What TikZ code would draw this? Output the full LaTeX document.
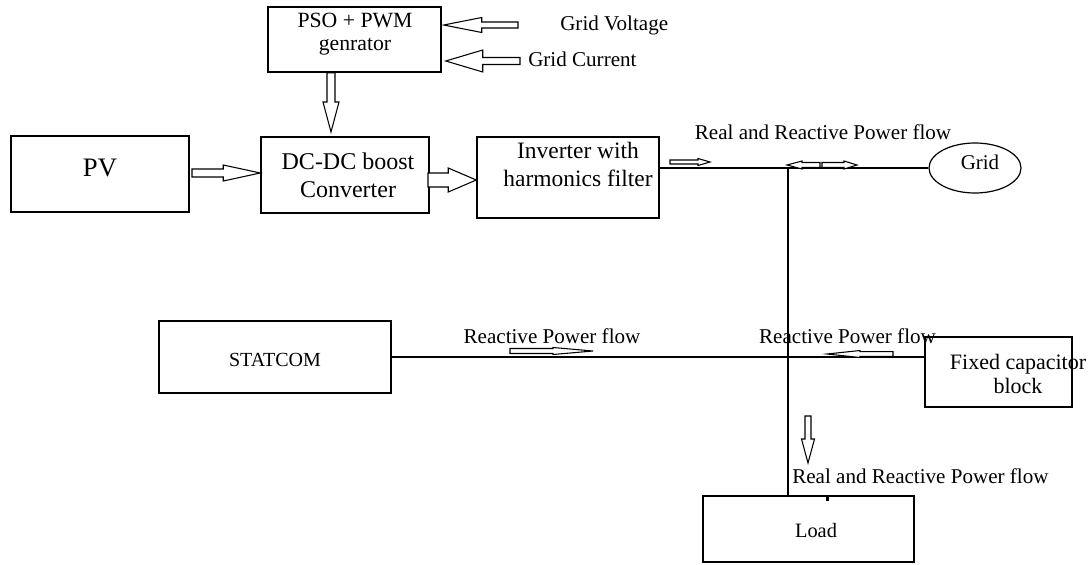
\documentclass[tikz,border=0pt]{standalone}
\usepackage{fontspec}
\setmainfont{Liberation Serif}
\usetikzlibrary{calc,shapes.geometric}
\tikzset{
  box/.style 2 args={draw, line width=1.1pt, inner sep=0pt, minimum width=#1*0.75pt, minimum height=#2*0.75pt},
  wire/.style={line width=0.9pt},
  txt/.style={inner sep=0pt, align=center},
  lbl/.style={inner sep=0pt, font=\fontsize{15.8}{19}\selectfont},
  barr/.style={draw=black, fill=white, line width=0.8pt, line join=miter},
  rarr/.style n args={3}{barr, to path={($(\tikztostart)+(0,#1)$) -- ($(\tikztotarget)+(-#3,#1)$) -- ($(\tikztotarget)+(-#3,#2)$) -- (\tikztotarget) -- ($(\tikztotarget)+(-#3,-#2)$) -- ($(\tikztotarget)+(-#3,-#1)$) -- ($(\tikztostart)+(0,-#1)$) -- cycle}},
  larr/.style n args={3}{barr, to path={($(\tikztostart)+(0,#1)$) -- ($(\tikztotarget)+(#3,#1)$) -- ($(\tikztotarget)+(#3,#2)$) -- (\tikztotarget) -- ($(\tikztotarget)+(#3,-#2)$) -- ($(\tikztotarget)+(#3,-#1)$) -- ($(\tikztostart)+(0,-#1)$) -- cycle}},
  darr/.style n args={3}{barr, to path={($(\tikztostart)+(#1,0)$) -- ($(\tikztotarget)+(#1,-#3)$) -- ($(\tikztotarget)+(#2,-#3)$) -- (\tikztotarget) -- ($(\tikztotarget)+(-#2,-#3)$) -- ($(\tikztotarget)+(-#1,-#3)$) -- ($(\tikztostart)+(-#1,0)$) -- cycle}},
}
\begin{document}
\begin{tikzpicture}[x=0.75pt,y=-0.75pt]
\useasboundingbox (0,0) rectangle (1088,564);

% boxes
\node[box={173}{65}] (pso) at (354.5,39.5) {};
\node[box={178}{76}] (pv) at (100,174) {};
\node[box={168}{76}] (dc) at (345,175) {};
\node[box={182}{81}] (inv) at (568,177.5) {};
\node[draw, ellipse, line width=0.9pt, inner sep=0pt, minimum width=69pt, minimum height=37.5pt] (grid) at (975,168) {};
\node[box={232}{72}] (st) at (275,357) {};
\node[box={147}{70}] (fcb) at (998.5,372) {};
\node[box={211}{66}] (load) at (808.5,529) {};

% box texts
\node[txt, font=\fontsize{16.3}{17.3}\selectfont] (psot) at (355,34) {PSO + PWM\\genrator};
\node[txt, font=\fontsize{20}{24}\selectfont] (pvt) at (100,168) {PV};
\node[txt, font=\fontsize{18}{21}\selectfont] (dct) at (348,175) {DC-DC boost\\Converter};
\node[txt, font=\fontsize{17.6}{21}\selectfont] (invt) at (578,164) {Inverter with\\harmonics filter};
\node[txt, font=\fontsize{15.7}{19}\selectfont] (gridt) at (980,162) {Grid};
\node[txt, font=\fontsize{15}{18}\selectfont] (stt) at (275,360) {STATCOM};
\node[txt, font=\fontsize{16.5}{17.3}\selectfont] (fcbt) at (1018,374) {Fixed capacitor\\block};
\node[txt, font=\fontsize{15.3}{18}\selectfont] (loadt) at (816,531) {Load};

% labels
\node[lbl, anchor=west] (gv) at (560,25) {Grid Voltage};
\node[lbl, anchor=west] (gc) at (528,59) {Grid Current};
\node[lbl] (rr1) at (823,132) {Real and Reactive Power flow};
\node[lbl] (rp1) at (552,336) {Reactive Power flow};
\node[lbl] (rp2) at (847.5,336) {Reactive Power flow};
\node[lbl, anchor=west] (rr2) at (792,476) {Real and Reactive Power flow};

% wires
\coordinate (J) at (788,168);
\draw[wire] (inv.east |- grid.west) -- (grid.west);
\draw[wire] (J) -- (J |- load.north);
\draw[wire] (st.east) -- (st.east -| fcb.west);

% big block arrows
\coordinate (gvt) at (518,25);
\coordinate (gct) at (520,61);
\draw[larr={3}{7.5}{38}] (gvt) to ($(gvt -| pso.east)+(2,0)$);
\draw[larr={3.5}{11}{37}] (gct) to ($(gct -| pso.east)+(4,0)$);
\coordinate (pdt) at (331,132);
\draw[darr={4}{8}{30}] (pso.south -| pdt) to (pdt);
\coordinate (pvs) at (192,173);
\draw[rarr={4}{8}{37}] (pvs) to (pvs -| dc.west);
\coordinate (dis) at (428,180);
\draw[rarr={7}{12}{28}] (dis) to (dis -| inv.west);

% small flow arrows
\coordinate (a1s) at (670,162); \coordinate (a1e) at (710,162);
\draw[rarr={2}{3.5}{12}] (a1s) to (a1e);
\coordinate (a2s) at (820,165); \coordinate (a2e) at (787,165);
\draw[larr={2.5}{4}{15}] (a2s) to (a2e);
\coordinate (a3s) at (822,165); \coordinate (a3e) at (857,165);
\draw[rarr={2.5}{4}{13}] (a3s) to (a3e);
\coordinate (a4s) at (510,351); \coordinate (a4e) at (593,351);
\draw[rarr={2.5}{3.5}{40}] (a4s) to (a4e);
\coordinate (a5s) at (893,354); \coordinate (a5e) at (827,354);
\draw[larr={2.3}{3.5}{33}] (a5s) to (a5e);
\coordinate (a6s) at (808,416); \coordinate (a6e) at (808,463);
\draw[darr={3}{6.5}{24}] (a6s) to (a6e);

% stray mark
\fill (826,497) rectangle (828.5,501);
\end{tikzpicture}
\end{document}
